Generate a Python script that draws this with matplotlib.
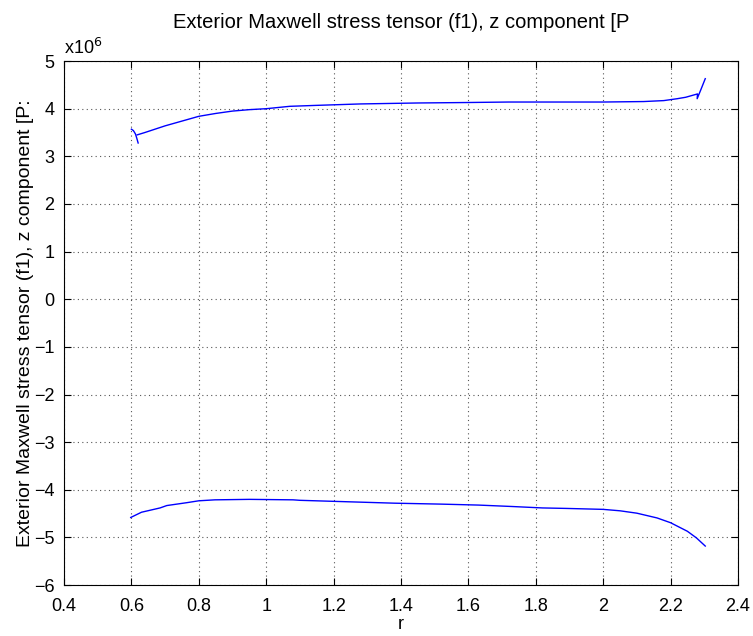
import matplotlib
matplotlib.use("Agg")
import matplotlib.pyplot as plt
import numpy as np

plt.rcParams['font.family'] = ['Liberation Sans', 'DejaVu Sans']

# upper boundary, values in units of 1e6 Pa
r_up = [0.600, 0.606, 0.612, 0.616, 0.620,
        0.617, 0.64, 0.70, 0.76, 0.80, 0.85, 0.90, 0.95, 1.00, 1.07, 1.15,
        1.28, 1.45, 1.60, 1.72, 1.87, 2.00, 2.12, 2.18, 2.22, 2.245, 2.28,
        2.279, 2.29, 2.303]
fz_up = [3.57, 3.54, 3.47, 3.38, 3.28,
         3.45, 3.50, 3.64, 3.76, 3.84, 3.90, 3.95, 3.98, 4.00, 4.05, 4.07,
         4.10, 4.12, 4.13, 4.14, 4.14, 4.14, 4.15, 4.17, 4.21, 4.24, 4.31,
         4.21, 4.40, 4.63]

# lower boundary
r_lo = [0.598, 0.63, 0.685, 0.705, 0.764, 0.80, 0.848, 0.95, 1.08, 1.10,
        1.24, 1.38, 1.52, 1.63, 1.73, 1.82, 1.89, 2.00, 2.05, 2.10, 2.16, 2.20,
        2.25, 2.277, 2.303]
fz_lo = [-4.58, -4.47, -4.38, -4.33, -4.27, -4.23, -4.21, -4.20, -4.21, -4.22,
         -4.25, -4.28, -4.30, -4.32, -4.35, -4.38, -4.39, -4.41, -4.44, -4.49, -4.59, -4.69,
         -4.87, -5.01, -5.18]

title = "Exterior Maxwell stress tensor (f1), z component [P"
ylab = "Exterior Maxwell stress tensor (f1), z component [P:"

fig = plt.figure(figsize=(7.53, 6.36), dpi=100)
ax = fig.add_axes([0.085, 0.080, 0.895, 0.824])

ax.plot(r_up[:5], fz_up[:5], color='blue', lw=1)
ax.plot(r_up[5:], fz_up[5:], color='blue', lw=1)
ax.plot(r_lo, fz_lo, color='blue', lw=1)

ax.set_xlim(0.4, 2.4)
ax.set_ylim(-6, 5)
ax.set_xticks(np.arange(0.4, 2.41, 0.2))
ax.set_xticklabels(['0.4', '0.6', '0.8', '1', '1.2', '1.4', '1.6', '1.8', '2', '2.2', '2.4'])
ax.set_yticks(range(-6, 6))
ax.set_yticklabels([str(v) if v >= 0 else '\u2212' + str(-v) for v in range(-6, 6)])

ax.grid(True, linestyle=(0, (1, 3)), color='#555555', lw=0.8)
ax.tick_params(direction='in', top=True, right=True, length=5, labelsize=13)
ax.tick_params(axis='x', pad=9)
ax.tick_params(axis='y', pad=7)
for s in ax.spines.values():
    s.set_linewidth(0.8)

ax.text(0.0, 1.005, r'x10$^6$', transform=ax.transAxes, fontsize=13,
        ha='left', va='bottom')

ax.set_title(title, fontsize=14.5, pad=24)
ax.set_xlabel('r', fontsize=13, labelpad=1)
ax.set_ylabel(ylab, fontsize=14, labelpad=0)

fig.savefig('out.png', dpi=100)
